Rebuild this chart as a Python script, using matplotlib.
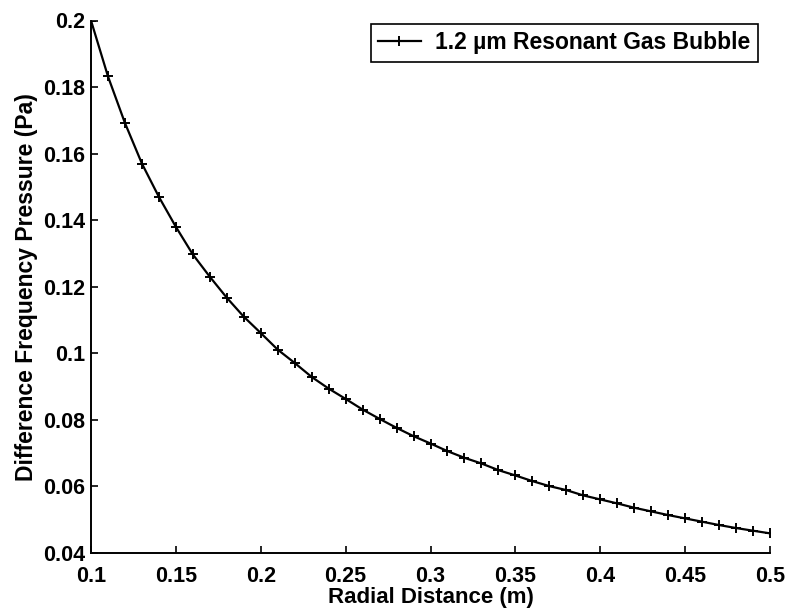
import matplotlib
matplotlib.use("Agg")
import matplotlib.pyplot as plt
from matplotlib.ticker import FuncFormatter

plt.rcParams['font.family'] = ['Liberation Sans', 'DejaVu Sans']

# Radial distance (m) and difference-frequency pressure (Pa)
radius = [0.10, 0.11, 0.12, 0.13, 0.14, 0.15, 0.16, 0.17, 0.18, 0.19,
          0.20, 0.21, 0.22, 0.23, 0.24, 0.25, 0.26, 0.27, 0.28, 0.29,
          0.30, 0.31, 0.32, 0.33, 0.34, 0.35, 0.36, 0.37, 0.38, 0.39,
          0.40, 0.41, 0.42, 0.43, 0.44, 0.45, 0.46, 0.47, 0.48, 0.49, 0.50]
pressure = [0.2000, 0.1832, 0.1692, 0.1570, 0.1470, 0.1380, 0.1297, 0.1230, 0.1167, 0.1110,
            0.1061, 0.1011, 0.0971, 0.0929, 0.0894, 0.0863, 0.0831, 0.0803, 0.0776, 0.0751,
            0.0729, 0.0706, 0.0686, 0.0669, 0.0649, 0.0633, 0.0616, 0.0601, 0.0589, 0.0573,
            0.0561, 0.0549, 0.0536, 0.0525, 0.0514, 0.0504, 0.0494, 0.0484, 0.0475, 0.0467, 0.0459]

series_label = "1.2 \u00b5m Resonant Gas Bubble"
x_ticks = [0.1, 0.15, 0.2, 0.25, 0.3, 0.35, 0.4, 0.45, 0.5]
y_ticks = [0.04, 0.06, 0.08, 0.1, 0.12, 0.14, 0.16, 0.18, 0.2]

W, H = 791, 611
fig = plt.figure(figsize=(W / 100, H / 100), dpi=100)
ax = fig.add_axes([91 / W, 1 - 553 / H, (770 - 91) / W, (553 - 20.5) / H])

ax.plot(radius, pressure, color='black', linewidth=1.6, marker='+',
        markersize=7.5, markeredgewidth=1.4, label=series_label)

ax.set_xlim(0.1, 0.5)
ax.set_ylim(0.04, 0.2)
ax.set_xticks(x_ticks)
ax.set_yticks(y_ticks)

fmt = FuncFormatter(lambda v, pos: ('%.2f' % v).rstrip('0'))
ax.xaxis.set_major_formatter(fmt)
ax.yaxis.set_major_formatter(fmt)

for side in ('top', 'right'):
    ax.spines[side].set_visible(False)
for side in ('left', 'bottom'):
    ax.spines[side].set_linewidth(1.4)

ax.tick_params(direction='in', length=5, width=1.2, labelsize=15.5)
ax.tick_params(axis='x', pad=9)
ax.tick_params(axis='y', pad=4)
for lbl in ax.get_xticklabels() + ax.get_yticklabels():
    lbl.set_fontweight('bold')

ax.set_xlabel("Radial Distance (m)", fontsize=16, fontweight='bold', labelpad=0)
ax.set_ylabel("Difference Frequency Pressure (Pa)", fontsize=16.5, fontweight='bold', labelpad=4)

leg = ax.legend(loc='upper right', bbox_to_anchor=(758 / W, 1 - 24 / H),
                bbox_transform=fig.transFigure, borderaxespad=0, fancybox=False,
                edgecolor='black', framealpha=1, handlelength=1.85, handletextpad=0.65,
                prop={'size': 16.5, 'weight': 'bold'}, borderpad=0.32)
leg.get_frame().set_linewidth(1.2)

fig.savefig("out.png", dpi=100)
